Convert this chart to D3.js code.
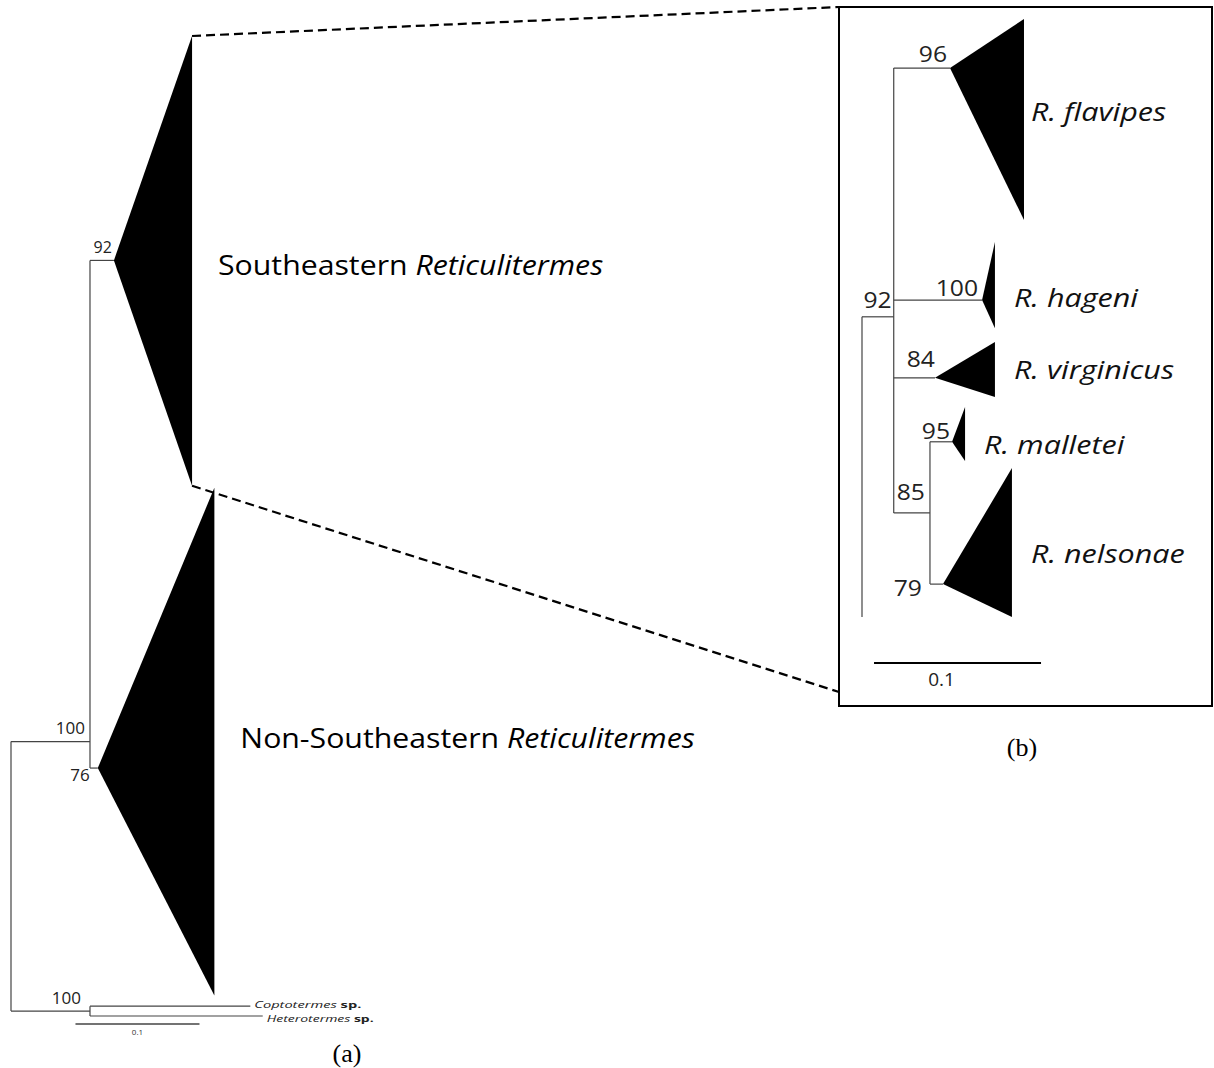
<!DOCTYPE html>
<html>
<head>
<title>Reticulitermes phylogeny</title>
<style>
body { margin: 0; background: #fff; }
svg { display: block; }
</style>
</head>
<body>
<div id="chart"></div>
<script src="https://d3js.org/d3.v7.min.js"></script>
<script>
const width = 1214;
const height = 1068;

// ---- panel (a): whole tree, branch lengths in substitutions/site ----
const cladesA = ["Southeastern", "Non-Southeastern"];
const cladeApexA = [0.083, 0.070];   // distance to collapsed clade root
const cladeTipA = [0.146, 0.164];    // distance to deepest tip
const cladeTopA = [0, 46.1];         // rows (0..100)
const cladeMidA = [22.9, 74.7];
const cladeBotA = [45.9, 97.9];
const supportA = ["92", "76"];
const ingroupNodeA = 0.0637;
const ingroupRowA = 72.0;
const ingroupSupportA = "100";
const outgroupTaxa = ["Coptotermes", "Heterotermes"];
const outgroupTip = [0.193, 0.203];
const outgroupRow = [99.0, 100.0];
const outgroupNode = 0.0637;
const outgroupSupport = "100";
const scaleBarA = 0.1;

// ---- panel (b): Southeastern clade ----
const taxaB = ["R. flavipes", "R. hageni", "R. virginicus", "R. malletei", "R. nelsonae"];
const cladeApexB = [0.0527, 0.0719, 0.0437, 0.0539, 0.0485];
const cladeTipB = [0.097, 0.0796, 0.0796, 0.0617, 0.0898];
const cladeTopB = [0, 37.3, 54.0, 64.9, 75.1];
const cladeMidB = [8.2, 47.0, 60.0, 70.7, 94.5];
const cladeBotB = [33.6, 51.7, 63.2, 73.9, 100];
const labelRowB = [15.5, 46.6, 58.7, 71.2, 89.5];
const supportB = ["96", "100", "84", "95", "79"];
const node92B = { x: 0.019, row: 49.8, support: "92" };
const node85B = { x: 0.0407, row: 82.6, support: "85" };
const rootRowB = [49.8, 100];
const scaleBarB = 0.1;

const svg = d3.select("#chart").append("svg")
  .attr("width", width)
  .attr("height", height);

svg.append("rect").attr("width", width).attr("height", height).attr("fill", "#fff");

const xA = d3.scaleLinear().domain([0, 0.1]).range([11, 135]);
const yA = d3.scaleLinear().domain([0, 100]).range([36, 1016]);
const xB = d3.scaleLinear().domain([0, 0.1]).range([862, 1029]);
const yB = d3.scaleLinear().domain([0, 100]).range([19, 617]);

const lineColor = "#444";
const sans = "'Open Sans', Lato, sans-serif";

function hLine(g, x1, x2, y) {
  g.append("line").attr("x1", x1).attr("x2", x2).attr("y1", y).attr("y2", y)
    .attr("stroke", lineColor).attr("stroke-width", 1.2);
}
function vLine(g, x, y1, y2) {
  g.append("line").attr("x1", x).attr("x2", x).attr("y1", y1).attr("y2", y2)
    .attr("stroke", lineColor).attr("stroke-width", 1.2);
}
function tri(g, ax, ay, tx, ty, by) {
  g.append("path")
    .attr("d", `M${ax},${ay}L${tx},${ty}L${tx},${by}Z`)
    .attr("fill", "#000");
}
// the source figure is stretched sideways, widen text to match
function stretch(sel, k) {
  const w = sel.node().getComputedTextLength();
  sel.attr("textLength", w * k).attr("lengthAdjust", "spacingAndGlyphs");
  return sel;
}

// ================= panel (a) =================
const gA = svg.append("g");

// root
vLine(gA, xA(0), yA(ingroupRowA), yA(d3.mean(outgroupRow)));
hLine(gA, xA(0), xA(ingroupNodeA), yA(ingroupRowA));
hLine(gA, xA(0), xA(outgroupNode), yA(d3.mean(outgroupRow)));

// ingroup node
vLine(gA, xA(ingroupNodeA), yA(cladeMidA[0]), yA(cladeMidA[1]));
gA.append("text").attr("x", xA(ingroupNodeA) - 5).attr("y", yA(ingroupRowA) - 8)
  .attr("text-anchor", "end").attr("font-family", sans).attr("font-size", 17)
  .attr("fill", "#222").text(ingroupSupportA);

cladesA.forEach((c, i) => {
  hLine(gA, xA(ingroupNodeA), xA(cladeApexA[i]), yA(cladeMidA[i]));
  tri(gA, xA(cladeApexA[i]), yA(cladeMidA[i]), xA(cladeTipA[i]), yA(cladeTopA[i]), yA(cladeBotA[i]));
  const lbl = gA.append("text")
    .attr("x", xA(cladeTipA[i]) + 26)
    .attr("y", yA(cladeMidA[i]) + (i === 0 ? 15 : -20))
    .attr("font-family", sans).attr("font-size", 27).attr("fill", "#000");
  lbl.append("tspan").text(c + " ");
  lbl.append("tspan").attr("font-style", "italic").text("Reticulitermes");
  stretch(lbl, 1.12);
});
// support labels on the clade nodes
gA.append("text").attr("x", xA(cladeApexA[0]) - 2).attr("y", yA(cladeMidA[0]) - 7)
  .attr("text-anchor", "end").attr("font-family", sans).attr("font-size", 16)
  .attr("fill", "#222").text(supportA[0]);
gA.append("text").attr("x", xA(cladeApexA[1]) - 8).attr("y", yA(cladeMidA[1]) + 13)
  .attr("text-anchor", "end").attr("font-family", sans).attr("font-size", 17)
  .attr("fill", "#222").text(supportA[1]);

// outgroups
vLine(gA, xA(outgroupNode), yA(outgroupRow[0]), yA(outgroupRow[1]));
gA.append("text").attr("x", xA(outgroupNode) - 9).attr("y", yA(d3.mean(outgroupRow)) - 7)
  .attr("text-anchor", "end").attr("font-family", sans).attr("font-size", 17)
  .attr("fill", "#222").text(outgroupSupport);
const outLabelDy = [2, 6];
outgroupTaxa.forEach((t, i) => {
  hLine(gA, xA(outgroupNode), xA(outgroupTip[i]), yA(outgroupRow[i]));
  const lbl = gA.append("text").attr("x", xA(outgroupTip[i]) + 4).attr("y", yA(outgroupRow[i]) + outLabelDy[i])
    .attr("font-family", sans).attr("font-size", 9).attr("fill", "#222")
    .attr("textLength", 107).attr("lengthAdjust", "spacingAndGlyphs");
  lbl.append("tspan").attr("font-style", "italic").text(t);
  lbl.append("tspan").attr("font-weight", "bold").text(" sp.");
});

// scale bar a
const sbA = yA(100) + 8;
gA.append("line").attr("x1", xA(0.052)).attr("x2", xA(0.052 + scaleBarA))
  .attr("y1", sbA).attr("y2", sbA).attr("stroke", lineColor).attr("stroke-width", 1.5);
gA.append("text").attr("x", xA(0.052 + scaleBarA / 2)).attr("y", sbA + 11)
  .attr("text-anchor", "middle").attr("font-family", sans).attr("font-size", 8)
  .attr("fill", "#333").text(scaleBarA);

gA.append("text").attr("x", 347).attr("y", 1062).attr("text-anchor", "middle")
  .attr("font-family", "'Liberation Serif', serif").attr("font-size", 26).text("(a)");

// ================= zoom connectors and box =================
const boxX = 839, boxY = 7, boxW = 373, boxH = 699;
svg.append("line")
  .attr("x1", xA(cladeTipA[0])).attr("y1", yA(cladeTopA[0]))
  .attr("x2", boxX).attr("y2", boxY)
  .attr("stroke", "#000").attr("stroke-width", 2.2).attr("stroke-dasharray", "9,5");
svg.append("line")
  .attr("x1", xA(cladeTipA[0])).attr("y1", yA(cladeBotA[0]))
  .attr("x2", boxX).attr("y2", 692)
  .attr("stroke", "#000").attr("stroke-width", 2.2).attr("stroke-dasharray", "9,5");
svg.append("rect").attr("x", boxX).attr("y", boxY).attr("width", boxW).attr("height", boxH)
  .attr("fill", "#fff").attr("stroke", "#000").attr("stroke-width", 2);

// ================= panel (b) =================
const gB = svg.append("g");
vLine(gB, xB(0), yB(rootRowB[0]), yB(rootRowB[1]));
hLine(gB, xB(0), xB(node92B.x), yB(node92B.row));
vLine(gB, xB(node92B.x), yB(cladeMidB[0]), yB(node85B.row));
hLine(gB, xB(node92B.x), xB(node85B.x), yB(node85B.row));
vLine(gB, xB(node85B.x), yB(cladeMidB[3]), yB(cladeMidB[4]));

const parentB = [node92B.x, node92B.x, node92B.x, node85B.x, node85B.x];
taxaB.forEach((t, i) => {
  hLine(gB, xB(parentB[i]), xB(cladeApexB[i]), yB(cladeMidB[i]));
  tri(gB, xB(cladeApexB[i]), yB(cladeMidB[i]), xB(cladeTipB[i]), yB(cladeTopB[i]), yB(cladeBotB[i]));
  const lbl = gB.append("text").attr("x", xB(cladeTipB[i]) + (i === 0 ? 7 : 19)).attr("y", yB(labelRowB[i]) + 9)
    .attr("font-family", sans).attr("font-style", "italic").attr("font-size", 25)
    .attr("fill", "#111").text(t);
  stretch(lbl, 1.22);
});

const fontB = 22;
// node support, placed beside each node
const supportPos = [
  { x: xB(cladeApexB[0]) - 3, y: yB(cladeMidB[0]) - 6, a: "end" },
  { x: xB(cladeApexB[1]) - 4, y: yB(cladeMidB[1]) - 4, a: "end" },
  { x: xB(node92B.x) + 13, y: yB(cladeMidB[2]) - 11, a: "start" },
  { x: xB(cladeApexB[3]) - 2, y: yB(cladeMidB[3]) - 3, a: "end" },
  { x: xB(node85B.x) - 8, y: yB(cladeMidB[4]) + 12, a: "end" }
];
supportB.forEach((s, i) => {
  const t = gB.append("text").attr("x", supportPos[i].x).attr("y", supportPos[i].y)
    .attr("text-anchor", supportPos[i].a).attr("font-family", sans)
    .attr("font-size", fontB).attr("fill", "#222").text(s);
  stretch(t, 1.12);
});
stretch(gB.append("text").attr("x", xB(node92B.x) - 2).attr("y", yB(node92B.row) - 9)
  .attr("text-anchor", "end").attr("font-family", sans).attr("font-size", fontB)
  .attr("fill", "#222").text(node92B.support), 1.12);
stretch(gB.append("text").attr("x", xB(node92B.x) + 3).attr("y", yB(node85B.row) - 13)
  .attr("text-anchor", "start").attr("font-family", sans).attr("font-size", fontB)
  .attr("fill", "#222").text(node85B.support), 1.12);

// scale bar b
const sbB = 663;
gB.append("line").attr("x1", xB(0.0072)).attr("x2", xB(0.0072 + scaleBarB))
  .attr("y1", sbB).attr("y2", sbB).attr("stroke", "#000").attr("stroke-width", 2);
gB.append("text").attr("x", xB(0.0072 + scaleBarB / 2) - 16).attr("y", sbB + 23)
  .attr("text-anchor", "middle").attr("font-family", sans).attr("font-size", 19)
  .attr("fill", "#222").text(scaleBarB);

svg.append("text").attr("x", 1022).attr("y", 756).attr("text-anchor", "middle")
  .attr("font-family", "'Liberation Serif', serif").attr("font-size", 26).text("(b)");
</script>
</body>
</html>
